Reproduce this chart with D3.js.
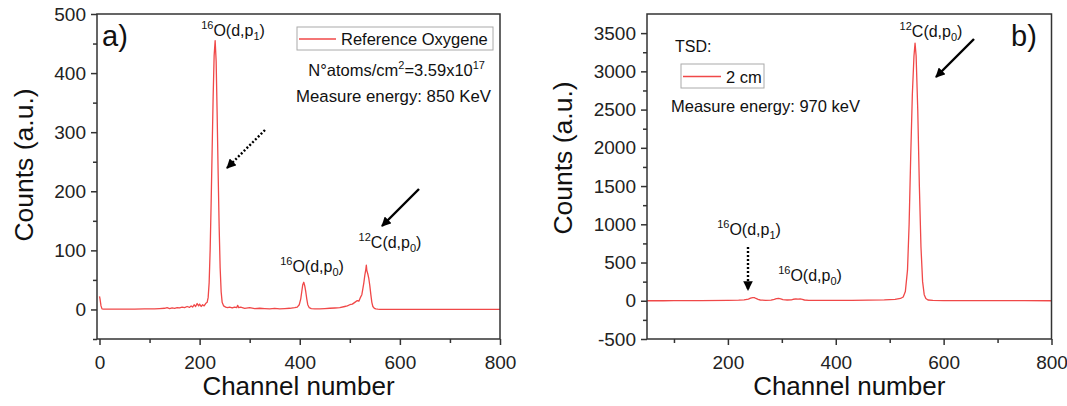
<!DOCTYPE html>
<html>
<head>
<meta charset="utf-8">
<script src="https://cdn.jsdelivr.net/npm/d3@7"></script>
<style>
  html, body { margin: 0; padding: 0; background: #fff; }
  svg { display: block; font-family: "Liberation Sans", Arial, sans-serif; }
</style>
</head>
<body>
<svg id="chart" width="1067" height="406"></svg>
<script>
// ---------- Panel a data: Reference Oxygene ----------
const channelsA = [0,1,3,5,8,15,30,50,70,90,
  110,120,130,135,140,145,150,155,160,165,
  170,175,180,183,186,189,192,195,198,200,
  203,206,209,212,215,217,219,221,223,225,
  227,229,231,233,235,237,239,241,243,245,
  248,252,256,260,265,270,274,276,278,282,
  290,300,310,320,330,340,350,360,370,380,
  390,395,399,402,404,406,408,410,412,414,
  416,419,423,430,440,450,460,470,480,490,
  495,500,505,510,515,518,521,524,526,528,
  530,532,533,534,536,538,540,542,544,546,
  549,552,556,560,570,580,600,620,640,660,
  680,700,720,740,760,780,800];
const countsA = [22,18,6,1,0.5,0.5,0.5,0.5,0.5,1,
  1,1.5,2,3,1.5,2.5,2,3,2.5,4,
  3,5,3.5,6,4,8,5,10,6,9,
  5,8,6,10,12,20,45,100,180,270,
  360,430,455,420,330,230,140,70,30,12,
  6,4,3,4,2.5,4,3,7,3,4,
  2,3,1.5,2,1.5,1,2,1,1.5,2,
  3,4,8,18,30,42,46,40,30,18,
  8,3,1.5,1,1,1.5,2,2.5,3,5,
  6,8,9,12,15,14,20,25,35,45,
  58,68,75,66,60,52,40,25,12,5,
  2,1,0.5,0.3,0,0,0,0,0,0,
  0,0,0,0,0,0,0];

// ---------- Panel b data: TSD 2 cm ----------
const channelsB = [50,80,100,150,200,220,230,238,242,246,
  249,252,256,260,270,280,286,290,294,298,
  302,310,318,322,326,330,334,338,342,350,
  370,400,430,460,490,510,520,525,529,533,
  536,539,542,545,547,549,552,555,558,561,
  564,567,571,580,600,650,700,750,800];
const countsB = [0,0,2,3,5,8,12,22,35,42,
  40,30,18,10,6,8,18,28,30,24,
  15,10,12,20,25,22,25,18,10,6,
  4,5,6,8,12,18,30,50,120,400,
  1000,1900,2700,3200,3370,3200,2500,1500,700,250,
  80,30,10,5,3,2,2,1,0];

// ---------- Axis ticks ----------
const xTicksA = [0,200,400,600,800];
const xMinorA = [100,300,500,700];
const yTicksA = [0,100,200,300,400,500];
const yMinorA = [-50,50,150,250,350,450];
const xTicksB = [200,400,600,800];
const xMinorB = [100,300,500,700];
const yTicksB = [-500,0,500,1000,1500,2000,2500,3000,3500];
const yMinorB = [-250,250,750,1250,1750,2250,2750,3250];

const seriesA = "Reference Oxygene";
const seriesB = "2 cm";
const lineColor = "#f04848";
const frameColor = "#333";

const svg = d3.select("#chart");
svg.append("rect").attr("width",1067).attr("height",406).attr("fill","#fff");

const defs = svg.append("defs");
defs.append("marker").attr("id","arrowHead")
  .attr("viewBox","0 0 10 10").attr("refX",9).attr("refY",5)
  .attr("markerWidth",4).attr("markerHeight",4).attr("markerUnits","strokeWidth")
  .attr("orient","auto")
  .append("path").attr("d","M0,0 L10,5 L0,10 Z").attr("fill","#000");

const plainFmt = d => String(d);

function panel(cfg) {
  const g = svg.append("g");
  const x = d3.scaleLinear().domain(cfg.xDomain).range([cfg.left, cfg.right]);
  const y = d3.scaleLinear().domain(cfg.yDomain).range([cfg.bottom, cfg.top]);
  const clipId = "clip" + cfg.id;
  defs.append("clipPath").attr("id", clipId).append("rect")
    .attr("x", cfg.left).attr("y", cfg.top)
    .attr("width", cfg.right - cfg.left).attr("height", cfg.bottom - cfg.top);

  // line
  const data = cfg.ch.map((c,i) => [c, cfg.counts[i]]);
  g.append("path").datum(data)
    .attr("clip-path", `url(#${clipId})`)
    .attr("fill","none").attr("stroke", lineColor).attr("stroke-width",1.3)
    .attr("stroke-linejoin","round")
    .attr("d", d3.line().x(d => x(d[0])).y(d => y(d[1])));

  // axes
  const fontSize = "19px";
  const xAx = g.append("g").attr("transform",`translate(0,${cfg.bottom})`)
    .call(d3.axisBottom(x).tickValues(cfg.xTicks).tickSize(6).tickPadding(6).tickFormat(plainFmt));
  const xMin = g.append("g").attr("transform",`translate(0,${cfg.bottom})`)
    .call(d3.axisBottom(x).tickValues(cfg.xMinor).tickSize(4).tickFormat(""));
  const yAx = g.append("g").attr("transform",`translate(${cfg.left},0)`)
    .call(d3.axisLeft(y).tickValues(cfg.yTicks).tickSize(6).tickPadding(5).tickFormat(plainFmt));
  const yMin = g.append("g").attr("transform",`translate(${cfg.left},0)`)
    .call(d3.axisLeft(y).tickValues(cfg.yMinor).tickSize(4).tickFormat(""));
  [xAx,xMin,yAx,yMin].forEach(a => {
    a.select(".domain").remove();
    a.selectAll("line").attr("stroke", frameColor).attr("stroke-width",1.5);
    a.selectAll("text").attr("fill","#222").style("font-size",fontSize)
      .style("font-family",'"Liberation Sans", Arial, sans-serif');
  });
  xAx.selectAll("text").attr("dy","0.95em");

  // frame
  g.append("rect").attr("x",cfg.left).attr("y",cfg.top)
    .attr("width",cfg.right-cfg.left).attr("height",cfg.bottom-cfg.top)
    .attr("fill","none").attr("stroke",frameColor).attr("stroke-width",1.5);

  // titles
  g.append("text").attr("x",(cfg.left+cfg.right)/2).attr("y",395)
    .attr("text-anchor","middle").style("font-size","26px").attr("fill","#111")
    .text("Channel number");
  g.append("text").attr("transform",`translate(${cfg.yTitleX},${cfg.yTitleY}) rotate(-90)`)
    .attr("text-anchor","middle").style("font-size","26.5px").attr("fill","#111")
    .text("Counts (a.u.)");
  return {g, x, y};
}

function reactionLabel(g, cx, by, sup, main, sub) {
  const t = g.append("text").attr("x",cx).attr("y",by).attr("text-anchor","middle")
    .attr("fill","#111").style("font-size","16px");
  t.append("tspan").style("font-size","11px").attr("dy",-7).text(sup);
  t.append("tspan").attr("dy",7).text(main + "(d,p");
  t.append("tspan").style("font-size","11px").attr("dy",4).text(sub);
  t.append("tspan").attr("dy",-4).text(")");
}

function arrow(g, x1, y1, x2, y2, dotted) {
  g.append("line").attr("x1",x1).attr("y1",y1).attr("x2",x2).attr("y2",y2)
    .attr("stroke","#000").attr("stroke-width",2.4)
    .attr("stroke-dasharray", dotted ? "2,2" : null)
    .attr("marker-end","url(#arrowHead)");
}

// ---------- Panel a ----------
const A = panel({id:"a", left:97, right:500, top:14, bottom:339,
  xDomain:[-5,800], yDomain:[-50,500],
  ch:channelsA, counts:countsA,
  xTicks:xTicksA, xMinor:xMinorA, yTicks:yTicksA, yMinor:yMinorA,
  yTitleX:33, yTitleY:165});
A.g.append("text").attr("x",102).attr("y",46).style("font-size","29px").attr("fill","#111").text("a)");
reactionLabel(A.g, 233, 36, "16", "O", "1");
reactionLabel(A.g, 312, 272, "16", "O", "0");
reactionLabel(A.g, 390, 248, "12", "C", "0");
arrow(A.g, 265, 130, 227, 168, true);
arrow(A.g, 419, 189, 382, 226, false);
// legend a
A.g.append("rect").attr("x",297).attr("y",27).attr("width",196).attr("height",23)
  .attr("fill","#fff").attr("stroke","#aaa").attr("stroke-width",1);
A.g.append("line").attr("x1",299).attr("x2",336).attr("y1",39).attr("y2",39)
  .attr("stroke",lineColor).attr("stroke-width",1.3);
A.g.append("text").attr("x",341).attr("y",45).style("font-size","16.5px").attr("fill","#111").text(seriesA);
const nat = A.g.append("text").attr("x",485).attr("y",76).attr("text-anchor","end")
  .style("font-size","16.5px").attr("fill","#111");
nat.append("tspan").text("N°atoms/cm");
nat.append("tspan").style("font-size","11px").attr("dy",-7).text("2");
nat.append("tspan").attr("dy",7).text("=3.59x10");
nat.append("tspan").style("font-size","11px").attr("dy",-7).text("17");
A.g.append("text").attr("x",491).attr("y",102).attr("text-anchor","end")
  .style("font-size","16.8px").attr("fill","#111").text("Measure energy: 850 KeV");

// ---------- Panel b ----------
const B = panel({id:"b", left:647, right:1051.5, top:14, bottom:339,
  xDomain:[50,800], yDomain:[-500,3750],
  ch:channelsB, counts:countsB,
  xTicks:xTicksB, xMinor:xMinorB, yTicks:yTicksB, yMinor:yMinorB,
  yTitleX:572, yTitleY:158});
B.g.append("text").attr("x",1011).attr("y",46).style("font-size","29px").attr("fill","#111").text("b)");
reactionLabel(B.g, 931, 37, "12", "C", "0");
reactionLabel(B.g, 749, 235, "16", "O", "1");
reactionLabel(B.g, 810, 281, "16", "O", "0");
arrow(B.g, 974, 39, 936, 77, false);
arrow(B.g, 748, 247, 748, 290, true);
B.g.append("text").attr("x",675).attr("y",52).style("font-size","16px").attr("fill","#111").text("TSD:");
B.g.append("rect").attr("x",681).attr("y",64).attr("width",83).attr("height",24)
  .attr("fill","#fff").attr("stroke","#aaa").attr("stroke-width",1);
B.g.append("line").attr("x1",683).attr("x2",721).attr("y1",76.5).attr("y2",76.5)
  .attr("stroke",lineColor).attr("stroke-width",1.3);
B.g.append("text").attr("x",726).attr("y",82.5).style("font-size","16.5px").attr("fill","#111").text(seriesB);
B.g.append("text").attr("x",671).attr("y",112).style("font-size","16.5px").attr("fill","#111").text("Measure energy: 970 keV");
</script>
</body>
</html>
